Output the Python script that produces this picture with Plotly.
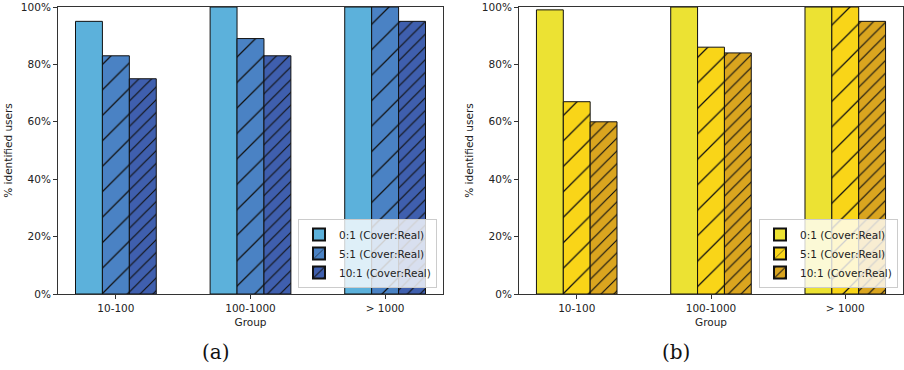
import plotly.graph_objects as go

# Groups on the x axis
groups = ["10-100", "100-1000", "> 1000"]

# Series names (cover-to-real traffic ratio)
series_names = ["0:1 (Cover:Real)", "5:1 (Cover:Real)", "10:1 (Cover:Real)"]

# Panel (a): percentage of identified users
panel_a = [
    [95, 100, 100],
    [83, 89, 100],
    [75, 83, 95],
]

# Panel (b): percentage of identified users
panel_b = [
    [99, 100, 100],
    [67, 86, 100],
    [60, 84, 95],
]

y_ticks = [0, 20, 40, 60, 80, 100]
y_tick_text = ["0%", "20%", "40%", "60%", "80%", "100%"]

colors_a = ["#5cb1db", "#4a82c4", "#3f5fae"]
colors_b = ["#ece233", "#f9d518", "#daa51f"]
hatches = [("", 18, 0.0), ("/", 18, 0.07), ("/", 9, 0.13)]

W, H = 904, 370
y_dom = [1 - 294 / H, 1 - 7 / H]

fig = go.Figure()


def add_panel(values, colors, xref, yref, legend_name):
    for i, name in enumerate(series_names):
        shape, size, sol = hatches[i]
        pattern = dict(shape=shape, size=size, solidity=sol, fgcolor="#111111",
                       bgcolor=colors[i], fillmode="replace")
        fig.add_trace(go.Bar(
            x=groups, y=values[i], name=name,
            marker=dict(color=colors[i], line=dict(color="#111111", width=1),
                        pattern=pattern),
            xaxis=xref, yaxis=yref, legend=legend_name,
        ))


add_panel(panel_a, colors_a, "x", "y", "legend")
add_panel(panel_b, colors_b, "x2", "y2", "legend2")

axis_font = dict(family="DejaVu Sans", size=10.5, color="#222222")

xaxis_common = dict(
    type="category", range=[-0.43, 2.43], showline=True, mirror=True,
    linecolor="#333333", linewidth=1, ticks="outside", ticklen=4,
    tickcolor="#333333", tickfont=axis_font, showgrid=False, zeroline=False,
    automargin=False,
    title=dict(text="Group", font=axis_font, standoff=6),
)
yaxis_common = dict(
    range=[0, 100], tickvals=y_ticks, ticktext=y_tick_text, showline=True,
    mirror=True, linecolor="#333333", linewidth=1, ticks="outside",
    ticklen=4, tickcolor="#333333", tickfont=axis_font, showgrid=False,
    zeroline=False, domain=y_dom, automargin=False,
    title=dict(text="% identified users", font=axis_font, standoff=6),
)

legend_common = dict(
    bgcolor="rgba(255,255,255,0.8)", bordercolor="#cccccc", borderwidth=1,
    font=dict(family="DejaVu Sans", size=10.5, color="#222222"),
    xanchor="right", yanchor="bottom", tracegroupgap=0, itemsizing="constant",
)

panel_font = dict(family="DejaVu Serif", size=20, color="#111111")

fig.update_layout(
    width=W, height=H, margin=dict(l=0, r=0, t=0, b=0, autoexpand=False),
    paper_bgcolor="white", plot_bgcolor="white",
    barmode="group", bargap=0.4, bargroupgap=0,
    xaxis=dict(domain=[58 / W, 443 / W], anchor="y", **xaxis_common),
    yaxis=dict(anchor="x", **yaxis_common),
    xaxis2=dict(domain=[519 / W, 903 / W], anchor="y2", **xaxis_common),
    yaxis2=dict(anchor="x2", **yaxis_common),
    legend=dict(x=437 / W, y=1 - 288 / H, **legend_common),
    legend2=dict(x=898 / W, y=1 - 288 / H, **legend_common),
    annotations=[
        dict(text="(a)", x=216 / W, y=1 - 352 / H, xref="paper", yref="paper",
             xanchor="center", yanchor="middle", showarrow=False, font=panel_font),
        dict(text="(b)", x=676 / W, y=1 - 352 / H, xref="paper", yref="paper",
             xanchor="center", yanchor="middle", showarrow=False, font=panel_font),
    ],
)

fig.write_html("out.html")
